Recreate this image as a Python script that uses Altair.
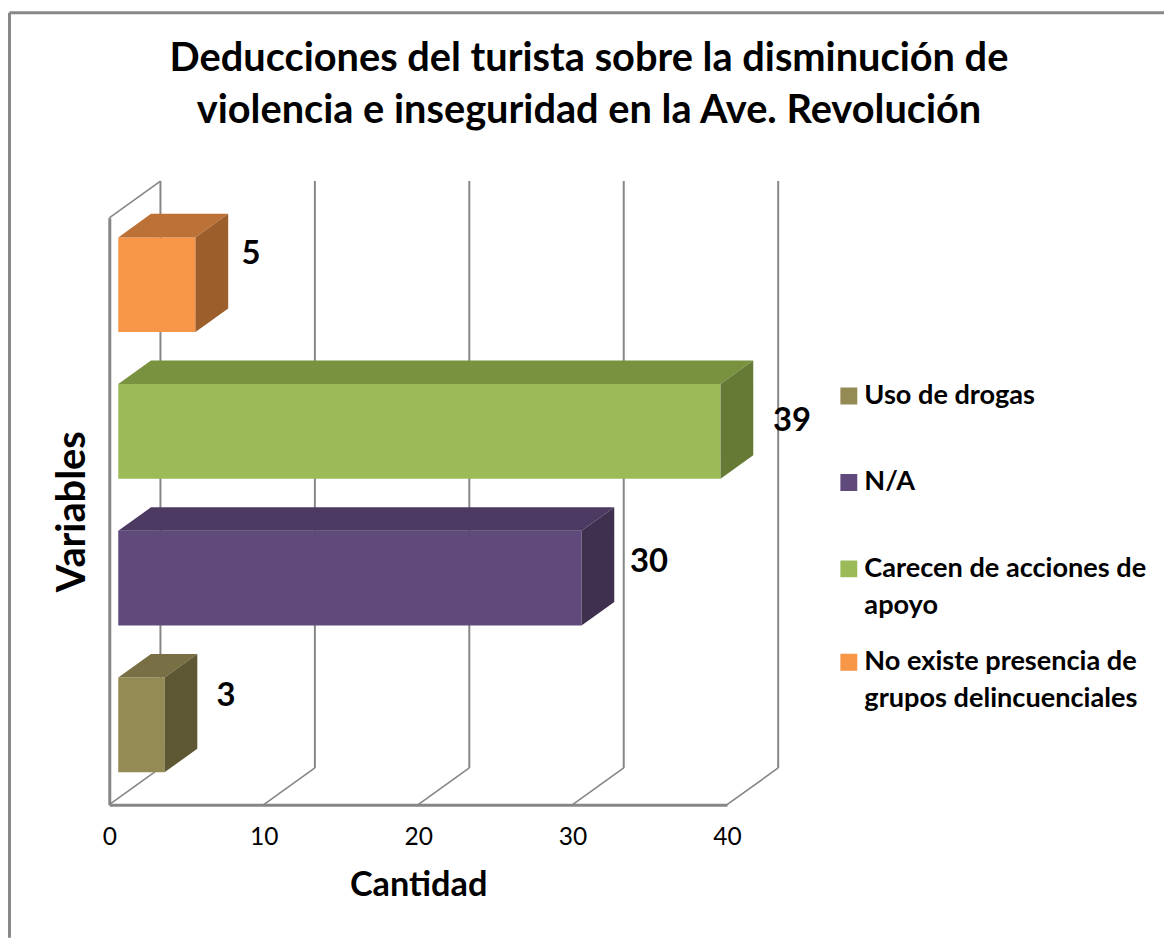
import altair as alt
import pandas as pd

# ---- values ----
series = ["Uso de drogas", "N/A", "Carecen de acciones de apoyo", "No existe presencia de grupos delincuenciales"]
values = [3, 30, 39, 5]
front_colors = ["#948A54", "#604A7B", "#9BBB59", "#F79646"]
top_colors = ["#787044", "#4C3A62", "#799240", "#BC7236"]
side_colors = ["#5E5734", "#3F3050", "#667A36", "#9C5E2B"]
label_nudge_x = [29, 35, 39, 23]
label_nudge_y = [-29, -16, -10, -31]
ticks = [0, 10, 20, 30, 40]

# ---- geometry of the pseudo 3D box, in data units ----
PX_X = 622 / 40
PX_Y = 591 / 4
WALL_X, WALL_Y = 51.5 / PX_X, 37 / PX_Y
NEAR, FAR = 0.175, 0.815
BAR_H = 1 / 1.55
GREY = "#868686"
FONT = "Lato"

xs = alt.Scale(domain=[0, 40], nice=False, zero=False)
ys = alt.Scale(domain=[0, 4], nice=False, zero=False)
x_axis = alt.Axis(
    title="Cantidad", values=ticks, format="d", grid=False, ticks=False, labelFlush=False,
    domainColor=GREY, domainWidth=3, labelFont=FONT, labelFontSize=24.7, labelColor="#000000",
    labelPadding=20, titleFont=FONT, titleFontSize=34.5, titleFontWeight="bold",
    titleColor="#000000", titlePadding=20)
y_axis = alt.Axis(
    title="Variables", labels=False, ticks=False, grid=False, domainColor=GREY, domainWidth=3,
    titleFont=FONT, titleFontSize=40, titleFontWeight="bold", titleColor="#000000",
    titlePadding=17)
X = lambda f: alt.X(f, type="quantitative", scale=xs, axis=x_axis)
Y = lambda f: alt.Y(f, type="quantitative", scale=ys, axis=y_axis)

front, top, side, labels = [], [], [], []
for i, (s, v) in enumerate(zip(series, values)):
    x0 = NEAR * WALL_X
    x1 = x0 + v
    y0 = i + (1 - BAR_H) / 2 + NEAR * WALL_Y
    y1 = y0 + BAR_H
    dx = (FAR - NEAR) * WALL_X
    dy = (FAR - NEAR) * WALL_Y
    front.append(dict(serie=s, x0=x0, x1=x1, y0=y0, y1=y1))
    top.append(dict(id=i, fill=top_colors[i], y=y1, xa=x0, xb=x1))
    top.append(dict(id=i, fill=top_colors[i], y=y1 + dy, xa=x0 + dx, xb=x1 + dx))
    side.append(dict(id=i, fill=side_colors[i], x=x1, ya=y0, yb=y1))
    side.append(dict(id=i, fill=side_colors[i], x=x1 + dx, ya=y0 + dy, yb=y1 + dy))
    labels.append(dict(t=str(v), x=x1 + dx + label_nudge_x[i] / PX_X,
                       y=(y0 + y1) / 2 - label_nudge_y[i] / PX_Y))

walls = pd.DataFrame([dict(x=t + WALL_X, y=WALL_Y, y2=4 + WALL_Y) for t in ticks])
floor = pd.DataFrame([dict(x=t, x2=t + WALL_X, y=0, y2=WALL_Y) for t in ticks])
corner = pd.DataFrame([dict(x=0, x2=WALL_X, y=4, y2=4 + WALL_Y)])

# outer picture frame, expressed on the same scales
FRAME_L, FRAME_T = -100.5 / PX_X, 4 + 206.5 / PX_Y
FRAME_R, FRAME_B = 1062 / PX_X, -134 / PX_Y
frame = pd.DataFrame([
    dict(x=FRAME_L, x2=FRAME_L, y=FRAME_T, y2=FRAME_B),
    dict(x=FRAME_L, x2=FRAME_R, y=FRAME_T, y2=FRAME_T),
])

wall_layer = alt.Chart(walls).mark_rule(color=GREY, strokeWidth=2).encode(
    x=X("x"), y=Y("y"), y2="y2:Q")
floor_layer = alt.Chart(pd.concat([floor, corner])).mark_rule(color=GREY, strokeWidth=1.6).encode(
    x=X("x"), x2="x2:Q", y=Y("y"), y2="y2:Q")

top_layer = alt.Chart(pd.DataFrame(top)).mark_area(orient="horizontal").encode(
    y=Y("y"), x=X("xa"), x2="xb:Q",
    color=alt.Color("fill:N", scale=None), detail="id:N")
side_layer = alt.Chart(pd.DataFrame(side)).mark_area(orient="vertical").encode(
    x=X("x"), y=Y("ya"), y2="yb:Q",
    color=alt.Color("fill:N", scale=None), detail="id:N")

legend = alt.Legend(
    title=None, orient="none", legendX=731, legendY=136, columns=1,
    symbolType="square", symbolSize=289, symbolStrokeWidth=0, clipHeight=87, rowPadding=0,
    labelFont=FONT, labelFontWeight="bold", labelFontSize=27.3, labelColor="#000000",
    labelLimit=400, labelOffset=2,
    labelExpr="datum.label == 'Carecen de acciones de apoyo' ? ['Carecen de acciones de', 'apoyo']"
              " : datum.label == 'No existe presencia de grupos delincuenciales'"
              " ? ['No existe presencia de', 'grupos delincuenciales'] : datum.label",
)
front_layer = alt.Chart(pd.DataFrame(front)).mark_rect().encode(
    x=X("x0"), x2="x1:Q", y=Y("y0"), y2="y1:Q",
    color=alt.Color("serie:N", scale=alt.Scale(domain=series, range=front_colors), legend=legend),
)

text_layer = alt.Chart(pd.DataFrame(labels)).mark_text(
    font=FONT, fontWeight="bold", fontSize=33, color="#000000", align="center", baseline="middle"
).encode(x=X("x"), y=Y("y"), text="t:N")

frame_layer = alt.Chart(frame).mark_rule(color="#888888", strokeWidth=3).encode(
    x=X("x"), x2="x2:Q", y=Y("y"), y2="y2:Q")

chart = alt.layer(
    wall_layer, floor_layer, front_layer, top_layer, side_layer, text_layer, frame_layer
).properties(
    width=622, height=591,
    autosize=alt.AutoSizeParams(type="none"),
    padding={"left": 102, "top": 208, "right": 440, "bottom": 134},
    background="#ffffff",
    title=alt.TitleParams(
        text=["Deducciones del turista sobre la disminución de",
              "violencia e inseguridad en la Ave. Revolución"],
        font=FONT, fontSize=40, fontWeight="bold", color="#000000",
        anchor="middle", dx=172, dy=120.5, lineHeight=52, offset=0),
    config=alt.Config(view=alt.ViewConfig(stroke=None),
                      style={"guide-label": {"lineHeight": 37}}),
)

chart.save("out.html", embed_options={"renderer": "svg", "actions": False})
